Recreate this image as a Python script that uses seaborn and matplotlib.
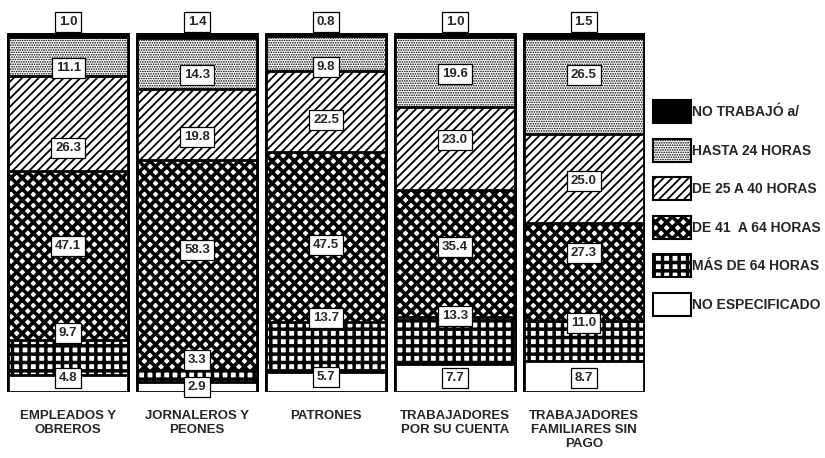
import pandas as pd
import matplotlib.pyplot as plt
import seaborn as sns
from matplotlib.patches import Patch

categorias = ['EMPLEADOS Y\nOBREROS', 'JORNALEROS Y\nPEONES', 'PATRONES',
              'TRABAJADORES\nPOR SU CUENTA', 'TRABAJADORES\nFAMILIARES SIN\nPAGO']

# porcentajes, de la parte de arriba de la barra hacia abajo
no_trabajo = [1.0, 1.4, 0.8, 1.0, 1.5]
hasta_24 = [11.1, 14.3, 9.8, 19.6, 26.5]
de_25_40 = [26.3, 19.8, 22.5, 23.0, 25.0]
de_41_64 = [47.1, 58.3, 47.5, 35.4, 27.3]
mas_64 = [9.7, 3.3, 13.7, 13.3, 11.0]
no_especificado = [4.8, 2.9, 5.7, 7.7, 8.7]

series = ['NO TRABAJÓ a/', 'HASTA 24 HORAS', 'DE 25 A 40 HORAS',
          'DE 41  A 64 HORAS', 'MÁS DE 64 HORAS', 'NO ESPECIFICADO']
valores = [no_trabajo, hasta_24, de_25_40, de_41_64, mas_64, no_especificado]

# relleno, trama, grosor de trama
estilos = {
    'NO TRABAJÓ a/': ('black', '', 1.0),
    'HASTA 24 HORAS': ('white', '.......', 0.8),
    'DE 25 A 40 HORAS': ('white', '////', 1.3),
    'DE 41  A 64 HORAS': ('white', 'xxx', 2.6),
    'MÁS DE 64 HORAS': ('white', '++', 2.5),
    'NO ESPECIFICADO': ('white', '', 1.0),
}

# desplazamiento vertical de las etiquetas respecto al centro del tramo
ajuste = {
    'HASTA 24 HORAS': [-3.2, -3.2, -3.8, -0.6, 3.0],
    'DE 25 A 40 HORAS': [-6.8, -3.4, -2.4, 2.3, -0.7],
    'DE 41  A 64 HORAS': [2.6, 4.2, -2.2, 1.7, 5.4],
    'MÁS DE 64 HORAS': [6.8, 4.4, 8.1, 6.8, 5.0],
    'NO ESPECIFICADO': [1.5, 0.0, 1.3, 0.0, -0.4],
}

sns.set_style('white')
plt.rcParams['font.family'] = ['Liberation Sans', 'DejaVu Sans']

# acumulados (de abajo hacia arriba)
df = pd.DataFrame(dict(zip(series, valores)), index=categorias)
acum = df[series[::-1]].cumsum(axis=1)

fig = plt.figure(figsize=(8.25, 4.58), dpi=100)
ax = fig.add_axes([7 / 825, 66 / 458, 638 / 825, 359 / 458])

for s in series:  # la serie de arriba primero, las de abajo encima
    n = len(ax.patches)
    d = pd.DataFrame({'cat': categorias, 'val': acum[s].values})
    sns.barplot(data=d, x='cat', y='val', color=estilos[s][0], saturation=1,
                width=0.93, errorbar=None, ax=ax, order=categorias)
    for p in ax.patches[n:]:
        p.set_facecolor(estilos[s][0])
        p.set_edgecolor('black')
        p.set_linewidth(2.0)
        p.set_hatch(estilos[s][1])
        if hasattr(p, 'set_hatch_linewidth'):
            p.set_hatch_linewidth(estilos[s][2])

caja = dict(boxstyle='square,pad=0.3', fc='white', ec='black', lw=0.9)
for i, c in enumerate(categorias):
    ax.annotate(f'{df.loc[c, series[0]]:.1f}', (i, 100), xytext=(0, 3.5),
                textcoords='offset points', ha='center', va='bottom',
                fontsize=9.5, fontweight='bold', bbox=caja, annotation_clip=False)
    for s in series[1:]:
        v = df.loc[c, s]
        y = acum.loc[c, s] - v / 2 + ajuste[s][i]
        ax.text(i, y, f'{v:.1f}', ha='center', va='center', fontsize=9.5,
                fontweight='bold', bbox=caja, clip_on=False)

ax.set_xlim(-0.475, 4.475)
ax.set_ylim(0, 100)
ax.set_xlabel('')
ax.set_ylabel('')
ax.set_yticks([])
ax.tick_params(axis='x', length=0, pad=13, labelsize=9.5)
for t in ax.get_xticklabels():
    t.set_fontweight('bold')
for sp in ax.spines.values():
    sp.set_visible(False)

handles = [Patch(facecolor=estilos[s][0], edgecolor='black', hatch=estilos[s][1],
                 linewidth=1.5, label=s) for s in series]
leg = fig.legend(handles=handles, loc='upper left', bbox_to_anchor=(653 / 825, 1 - 100 / 458),
                 frameon=False, prop={'size': 10, 'weight': 'bold'}, handlelength=2.7,
                 handleheight=2.2, handletextpad=0.12, labelspacing=1.1,
                 borderpad=0, borderaxespad=0)
for p, s in zip(leg.get_patches(), series):
    if hasattr(p, 'set_hatch_linewidth'):
        p.set_hatch_linewidth(estilos[s][2])

fig.savefig('out.png', dpi=100)
